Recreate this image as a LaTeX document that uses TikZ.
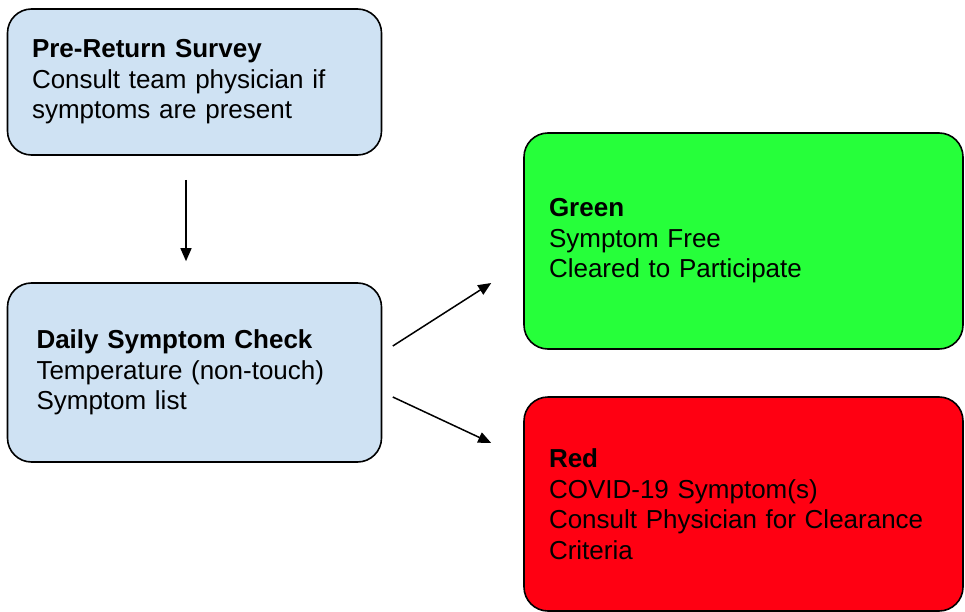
\documentclass[tikz,border=0pt]{standalone}
\usepackage{fontspec}
\setmainfont{Liberation Sans}
\usetikzlibrary{arrows.meta}
\definecolor{boxblue}{RGB}{207,226,243}
\definecolor{boxgreen}{RGB}{38,255,58}
\definecolor{boxred}{RGB}{255,0,18}
\tikzset{
  box/.style={draw=black, line width=1.6pt, rounded corners=24pt, align=left,
    inner sep=0pt, font=\fontsize{26}{30.5}\selectfont},
  arr/.style={line width=1.5pt, -{Triangle[length=13pt,width=11pt]}}
}
\begin{document}
\begin{tikzpicture}[x=1pt,y=-1pt]
\useasboundingbox (0,0) rectangle (965,612);
\node[box, fill=boxblue, minimum width=374pt, minimum height=146pt, text width=325pt] (b1) at (194.5,82)
  {\textbf{Pre-Return Survey}\\Consult team physician if\\symptoms are present};
\node[box, fill=boxblue, minimum width=374pt, minimum height=179pt, text width=316pt] (b2) at (194.5,372.5)
  {\textbf{Daily Symptom Check}\\Temperature (non-touch)\\Symptom list};
\node[box, fill=boxgreen, minimum width=439pt, minimum height=216pt, text width=389pt] (g) at (743.5,241)
  {\textbf{Green}\\Symptom Free\\Cleared to Participate};
\node[box, fill=boxred, minimum width=439pt, minimum height=214pt, text width=389pt] (r) at (743.5,504)
  {\textbf{Red}\\COVID-19 Symptom(s)\\Consult Physician for Clearance\\Criteria};
\draw[arr] ([shift={(-8.5pt,-24pt)}]b1.south) -- ([shift={(-8.5pt,21pt)}]b2.north);
\draw[arr] ([shift={(10.5pt,26.5pt)}]b2.east) -- ([shift={(-32pt,-42pt)}]g.west);
\draw[arr] ([shift={(10.5pt,-24.5pt)}]b2.east) -- ([shift={(-32pt,61pt)}]r.west);
\end{tikzpicture}
\end{document}
